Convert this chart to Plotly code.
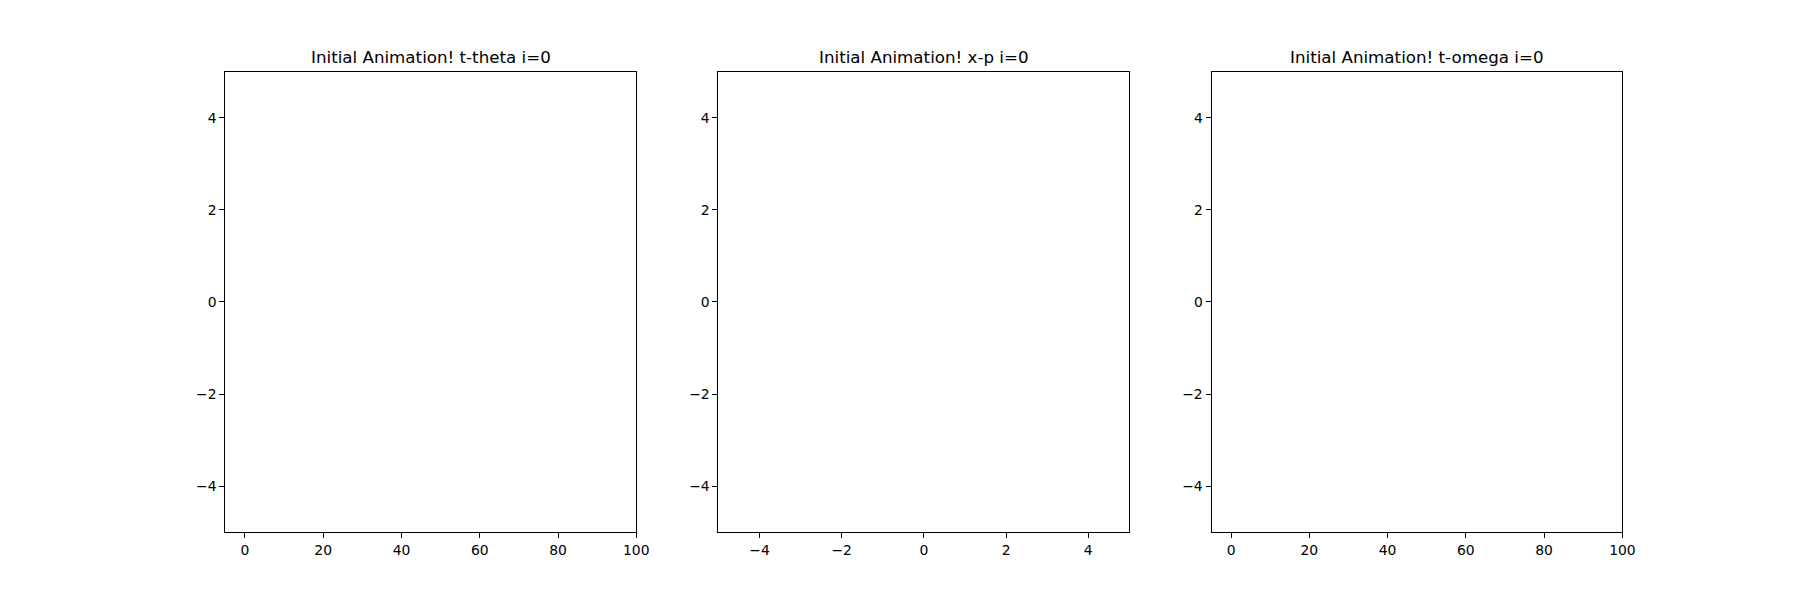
import plotly.graph_objects as go

# panel titles and axis setup
titles = ["Initial Animation! t-theta i=0",
          "Initial Animation! x-p i=0",
          "Initial Animation! t-omega i=0"]
x_ranges = [[-5, 100], [-5, 5], [-5, 100]]
x_ticks = [[0, 20, 40, 60, 80, 100], [-4, -2, 0, 2, 4], [0, 20, 40, 60, 80, 100]]
y_range = [-5, 5]
y_ticks = [-4, -2, 0, 2, 4]

PAGE_W, PAGE_H = 1800, 598
OFF = 8  # default body margin of the page
SX = 1816 / 1800  # the photo comes out slightly squeezed horizontally
W, H = 1760, 560

# panel edges in page pixels (matplotlib default subplot layout)
left_px, right_px = 0.125 * PAGE_W, 0.9 * PAGE_W
top_px, bottom_px = (1 - 0.88) * PAGE_H, (1 - 0.11) * PAGE_H
pw = (right_px - left_px) / (3 + 2 * 0.2)


def fx(px):
    return (px * SX - OFF) / W


def fy(py):
    return 1 - (py - OFF) / H


fig = go.Figure()

axis_style = dict(
    showline=True,
    mirror=True,
    linecolor="black",
    linewidth=1,
    ticks="outside",
    ticklen=5,
    tickwidth=1,
    tickcolor="black",
    showgrid=False,
    zeroline=False,
    tickfont=dict(family="DejaVu Sans", size=13.9, color="black"),
    fixedrange=True,
)

for i in range(3):
    n = "" if i == 0 else str(i + 1)
    x0 = left_px + i * pw * 1.2
    x1 = x0 + pw
    fig.add_trace(go.Scatter(x=[], y=[], xaxis="x" + n, yaxis="y" + n, showlegend=False))
    fig.update_layout({
        "xaxis" + n: dict(
            domain=[fx(x0), fx(x1)], range=x_ranges[i], tickvals=x_ticks[i],
            anchor="y" + n, **axis_style
        ),
        "yaxis" + n: dict(
            domain=[fy(bottom_px), fy(top_px)], range=y_range, tickvals=y_ticks,
            anchor="x" + n, **axis_style
        ),
    })
    fig.add_annotation(
        text=titles[i],
        x=fx((x0 + x1) / 2), y=fy(top_px),
        xref="paper", yref="paper",
        xanchor="center", yanchor="bottom",
        yshift=3,
        showarrow=False,
        font=dict(family="DejaVu Sans", size=16.7, color="black"),
    )

fig.update_layout(
    width=W,
    height=H,
    autosize=False,
    margin=dict(l=0, r=0, t=0, b=0),
    paper_bgcolor="white",
    plot_bgcolor="white",
    font=dict(family="DejaVu Sans", color="black"),
)

fig.write_html("out.html", config={"displayModeBar": False, "responsive": False})
